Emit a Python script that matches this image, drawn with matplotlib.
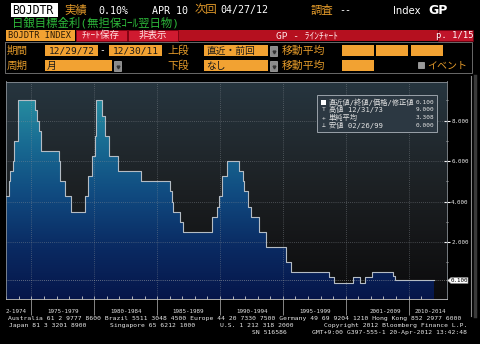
import numpy as np
import matplotlib.pyplot as plt
from matplotlib.patches import Rectangle, Polygon
from matplotlib.colors import LinearSegmentedColormap

plt.rcParams['font.family'] = ['DejaVu Sans Mono', 'Noto Sans CJK JP']

# BOJ target rate: month of each change and the new level (%)
change_months = ["1972-12", "1973-04", "1973-05", "1973-07", "1973-08", "1973-12",
                 "1975-04", "1975-06", "1975-08", "1975-10", "1977-03", "1977-04",
                 "1977-09", "1978-03", "1979-04", "1979-07", "1979-11", "1980-02",
                 "1980-03", "1980-08", "1980-11", "1981-03", "1981-12", "1983-10",
                 "1986-01", "1986-03", "1986-04", "1986-11", "1987-02", "1989-05",
                 "1989-10", "1989-12", "1990-03", "1990-08", "1991-07", "1991-11",
                 "1991-12", "1992-04", "1992-07", "1993-02", "1993-09", "1995-04",
                 "1995-09", "1998-09", "1999-02", "2000-08", "2006-03", "2006-07",
                 "2007-02", "2008-10", "2008-12"]
change_rates = [4.25, 5.0, 5.5, 6.0, 7.0, 9.0,
                8.5, 8.0, 7.5, 6.5, 6.0, 5.0,
                4.25, 3.5, 4.25, 5.25, 6.25, 7.25,
                9.0, 8.25, 7.25, 6.25, 5.5, 5.0,
                4.5, 4.0, 3.5, 3.0, 2.5, 3.25,
                3.75, 4.25, 5.25, 6.0, 5.5, 5.0,
                4.5, 3.75, 3.25, 2.5, 1.75, 1.0,
                0.5, 0.25, 0.0, 0.25, 0.0, 0.25,
                0.5, 0.3, 0.1]
last_month = "2011-12"
# months without observations (quantitative easing period)
gap_first, gap_last = "2001-03", "2006-02"

tick_months = ["1975-01", "1980-01", "1985-01", "1990-01", "1995-01", "2000-01", "2010-01"]
period_labels = ["2-1974", "1975-1979", "1980-1984", "1985-1989", "1990-1994",
                 "1995-1999", "2001-2009", "2010-2014"]
y_ticks = [2, 4, 6, 8]

legend_names = ["直近値/終値/価格/修正値", "高値 12/31/73", "単純平均", "安値 02/26/99"]
legend_values = ["0.100", "9.000", "3.308", "0.000"]
legend_marks = ["", "T", "+", "⊥"]


def month_num(s):
    y, m = map(int, s.split('-'))
    return y * 12 + m - 1


base = month_num(change_months[0])
gap_len = month_num(gap_last) - month_num(gap_first) + 1


def obs_index(s):
    n = month_num(s) - base
    if month_num(s) > month_num(gap_last):
        n -= gap_len
    return n


x = [obs_index(m) for m in change_months] + [obs_index(last_month) + 1]
y = change_rates + [change_rates[-1]]

W, H = 480, 344
fig = plt.figure(figsize=(W / 100, H / 100), dpi=100, facecolor='black')

# overlay in pixel coordinates for the terminal chrome
oax = fig.add_axes([0, 0, 1, 1], zorder=3)
oax.set_xlim(0, W)
oax.set_ylim(H, 0)
oax.axis('off')
oax.patch.set_alpha(0)

ORANGE = '#f2a232'
OTXT = '#e39a2a'


def box(x0, y0, w, h, fc, ec='none', lw=0.6, z=1):
    oax.add_patch(Rectangle((x0, y0), w, h, facecolor=fc, edgecolor=ec, lw=lw, zorder=z))


def txt(x0, y0, s, color='white', size=7.2, ha='left', **kw):
    oax.text(x0, y0, s, color=color, fontsize=size, ha=ha, va='center', **kw)


# row 1
box(11, 3, 47, 14, 'white')
txt(12.5, 10.5, "BOJDTR", 'black', 8.3)
txt(64, 10, "実績", OTXT, 8.2)
txt(98, 10.5, "0.10%", 'white', 7.2)
txt(152, 10.5, "APR 10", 'white', 7.2)
txt(195, 10, "次回", OTXT, 8.2)
txt(220, 10.5, "04/27/12", 'white', 7.2)
txt(311, 10, "調査", OTXT, 8.2)
txt(339, 10.5, "--", 'white', 7.2)
txt(393, 10.5, "Index", 'white', 7.2, family='DejaVu Sans')
txt(428, 10.5, "GP", 'white', 9, family='DejaVu Sans', weight='bold')

# row 2
txt(12, 23, "日銀目標金利(無担保ｺｰﾙ翌日物)", '#2db83a', 8.2)

# row 3: red menu bar
box(6, 30, 69, 11, ORANGE)
txt(8, 35.8, "BOJDTR INDEX", '#2a1a05', 6.2)
box(76, 30, 397, 11, '#b5101f')
box(76, 30, 51, 11, '#cf1a30', ec='#7a0010')
box(128, 30, 50, 11, '#cf1a30', ec='#7a0010')
txt(101, 35.5, "ﾁｬｰﾄ保存", '#ffe0e0', 6.8, ha='center')
txt(153, 35.5, "非表示", '#ffe0e0', 6.8, ha='center')
txt(307, 35.5, "GP - ﾗｲﾝﾁｬｰﾄ", '#ffe8e8', 6.8, ha='center')
box(438, 30, 35, 11, '#c0142a', ec='#6a0010')
txt(455, 35.8, "p. 1/15", 'white', 6.4, ha='center')

# rows 4-5: settings
oax.plot([5, 472, 472, 5, 5], [42, 42, 73, 73, 42], color='#6a6a6a', lw=0.7)
txt(7, 50.5, "期間", OTXT, 7.6)
txt(7, 65.5, "周期", OTXT, 7.6)
box(45, 45, 53, 11, ORANGE)
txt(71.5, 50.8, "12/29/72", '#1a1a1a', 6.8, ha='center')
txt(102.5, 50.5, "-", 'white', 6.8, ha='center')
box(109, 45, 53, 11, ORANGE)
txt(135.5, 50.8, "12/30/11", '#1a1a1a', 6.8, ha='center')
box(45, 60, 67, 11, ORANGE)
txt(47, 65.5, "月", '#1a1a1a', 7)
txt(167, 50.5, "上段", OTXT, 7.8)
txt(167, 65.5, "下段", OTXT, 7.8)
box(204, 45, 64, 11, ORANGE)
txt(206, 50.5, "直近・前回", '#1a1a1a', 7)
box(204, 60, 64, 11, ORANGE)
txt(206, 65.5, "なし", '#1a1a1a', 7)
for bx, by in [(114, 60), (270, 45), (270, 60)]:
    box(bx, by + 1, 7, 10, '#8a8a8a', ec='#cfcfcf', lw=0.4)
    oax.plot(bx + 3.5, by + 6.5, marker='v', ms=2, color='#333333')
txt(282, 50.5, "移動平均", OTXT, 7.8)
txt(282, 65.5, "移動平均", OTXT, 7.8)
for bx in [342, 376, 411]:
    box(bx, 45, 32, 11, ORANGE)
box(342, 60, 32, 11, ORANGE)
box(418, 62, 6, 6, '#9a9a9a', ec='#d0d0d0', lw=0.4)
txt(427, 65.5, "イベント", OTXT, 7.2)

# chart frame lines (right panel border)
oax.plot([471, 471], [76, 316], color='#8a8a8a', lw=0.8)
oax.plot([475, 475], [76, 316], color='#3a3a3a', lw=2.5)

# footer
fs = 4.62
txt(8, 318.5, "Australia 61 2 9777 8600 Brazil 5511 3048 4500 Europe 44 20 7330 7500 "
    "Germany 49 69 9204 1210 Hong Kong 852 2977 6000", '#e8e8e8', fs)
txt(9, 325.5, "Japan 81 3 3201 8900", '#e8e8e8', fs)
txt(110, 325.5, "Singapore 65 6212 1000", '#e8e8e8', fs)
txt(220, 325.5, "U.S. 1 212 318 2000", '#e8e8e8', fs)
txt(467, 325.5, "Copyright 2012 Bloomberg Finance L.P.", '#e8e8e8', fs, ha='right')
txt(252, 332.2, "SN 516586", '#e8e8e8', fs)
txt(467, 332.2, "GMT+9:00 G397-555-1 20-Apr-2012 13:42:48", '#e8e8e8', fs, ha='right')

# ---- chart ----
ax = fig.add_axes([6 / W, 45 / H, 441 / W, 217.5 / H], zorder=1)
x0, x1 = 0.76, 421.6
y0, y1 = -0.815, 9.93

bg_cmap = LinearSegmentedColormap.from_list(
    'bg', ['#0b0b0c', '#141517', '#1c2023', '#222b31', '#26353f'])
grad = np.linspace(0, 1, 256).reshape(-1, 1)
ax.imshow(grad, extent=[x0, x1, y0, y1], origin='lower', aspect='auto',
          cmap=bg_cmap, zorder=0, interpolation='bilinear')

fill_cmap = LinearSegmentedColormap.from_list(
    'fill', ['#06164a', '#0a2a62', '#10497f', '#186a92', '#2890a2'])
im = ax.imshow(grad, extent=[x0, x1, y0, 9.3], origin='lower', aspect='auto',
               cmap=fill_cmap, zorder=1, interpolation='bilinear')
poly = ax.fill_between(x, y, y0, step='post', facecolor='none', edgecolor='none')
im.set_clip_path(poly.get_paths()[0], transform=ax.transData)
ax.step(x, y, where='post', color='#b4bcc4', lw=0.8, zorder=3)

# grid
major_x = [obs_index(m) for m in tick_months]
for gx in major_x:
    ax.axvline(gx, color='#8a9096', lw=0.5, ls=(0, (1, 2)), alpha=0.8, zorder=2)
for gy in y_ticks:
    ax.axhline(gy, color='#8a9096', lw=0.5, ls=(0, (1, 2)), alpha=0.8, zorder=2)
ax.axhline(change_rates[-1], color='#b0b0b0', lw=0.5, ls=(0, (1, 2)), zorder=2)

ax.set_xlim(x0, x1)
ax.set_ylim(y0, y1)

# x axis: yearly minor ticks, period separators and labels below
years = [f"{yy}-01" for yy in range(1973, 2012)
         if not (month_num(gap_first) <= month_num(f"{yy}-01") <= month_num(gap_last))]
ax.set_xticks([obs_index(m) for m in years], minor=True)
ax.set_xticks([])
ax.tick_params(axis='x', which='minor', direction='in', length=2, color='#d0d0d0', width=0.6)
ax.vlines(major_x, -0.075, 0, transform=ax.get_xaxis_transform(), clip_on=False,
          color='#9a9a9a', lw=0.6)
label_pos = [0.76, 55.2, 115.3, 174.4, 235.5, 295.6, 362.4, 405.3]
for lx, s in zip(label_pos, period_labels):
    ax.text(lx, -0.058, s, transform=ax.get_xaxis_transform(), fontsize=4.2,
            color='#e0e0e0', ha='left' if s == period_labels[0] else 'center', va='center')

# y axis on the right
ax.yaxis.tick_right()
ax.set_yticks(y_ticks)
ax.set_yticklabels([f"{v:.3f}" for v in y_ticks])
ax.set_yticks([1, 3, 5, 7, 9], minor=True)
ax.tick_params(axis='y', which='major', direction='inout', length=4, color='white',
               width=0.8, labelsize=4.2, labelcolor='#e8e8e8', pad=1)
ax.tick_params(axis='y', which='minor', direction='inout', length=2, color='#bbbbbb', width=0.6)
for sp in ax.spines.values():
    sp.set_color('#8a9096')
    sp.set_linewidth(0.6)
ax.spines['bottom'].set_color('#c8c8c8')

# last value tag
oax.add_patch(Polygon([[447.5, 280.5], [451, 277.5], [468, 277.5], [468, 283.5], [451, 283.5]],
                      closed=True, facecolor='white', edgecolor='#888888', lw=0.4, zorder=5))
txt(459.5, 280.7, f"{change_rates[-1]:.3f}", 'black', 4.2, ha='center', zorder=6)

# legend box
box(317, 95, 120, 37, '#2c3842', ec='#9aa2aa', lw=0.7, z=4)
for i, (name, val, mk) in enumerate(zip(legend_names, legend_values, legend_marks)):
    ly = 102.3 + i * 7.6
    if i == 0:
        box(321, ly - 2.6, 5, 5, 'white', z=5)
    else:
        txt(323.5, ly, mk, '#e0e0e0', 4.6, ha='center', zorder=5)
    txt(329, ly, name, '#e4e4e4', 5.2, zorder=5)
    txt(434.5, ly, val, '#e4e4e4', 4.4, ha='right', zorder=5)

fig.savefig('out.png', dpi=100, facecolor='black')
